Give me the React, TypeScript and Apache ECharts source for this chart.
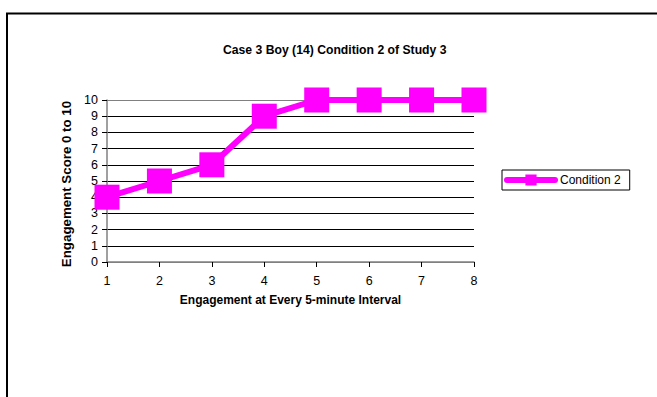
import React, { useEffect, useRef } from "react";
import * as echarts from "echarts";

const titleText = "Case 3 Boy (14) Condition 2 of Study 3";
const xAxisTitle = "Engagement at Every 5-minute Interval";
const yAxisTitle = "Engagement Score 0 to 10";
const seriesName = "Condition 2";
const categories = ["1", "2", "3", "4", "5", "6", "7", "8"];
const values = [4, 5, 6, 9, 10, 10, 10, 10];

const FONT = "'Liberation Sans', Arial, sans-serif";
const MAGENTA = "#FF00FF";

export default function App() {
  const ref = useRef<HTMLDivElement>(null);
  useEffect(() => {
    if (!ref.current) return;
    const chart = echarts.init(ref.current, undefined, { renderer: "svg" });
    const splitColors = ["#808080", "#000", "#000", "#000", "#000", "#000", "#000", "#000", "#000", "#000", "#808080"];
    chart.setOption({
      animation: false,
      backgroundColor: "#fff",
      textStyle: { fontFamily: FONT },
      title: {
        text: titleText,
        left: 223,
        top: 44,
        padding: 0,
        textStyle: { fontFamily: FONT, fontSize: 12.2, fontWeight: "bold", color: "#000" },
      },
      graphic: [
        {
          type: "rect",
          shape: { x: 7, y: 13.5, width: 700, height: 500 },
          style: { fill: "none", stroke: "#000", lineWidth: 2 },
          silent: true,
        },
      ],
      legend: {
        left: 502,
        top: 170,
        orient: "vertical",
        padding: [4, 9, 4, 2],
        borderColor: "#000",
        borderWidth: 1,
        itemWidth: 48,
        itemHeight: 14,
        textStyle: { fontFamily: FONT, fontSize: 12, color: "#000" },
        lineStyle: { width: 6, cap: "round", color: MAGENTA },
        data: [seriesName],
      },
      grid: { left: 107, top: 100, width: 367, height: 162, show: false },
      xAxis: {
        type: "category",
        data: categories,
        boundaryGap: false,
        name: xAxisTitle,
        nameLocation: "middle",
        nameGap: 32,
        nameTextStyle: { fontFamily: FONT, fontSize: 12, fontWeight: "bold", color: "#000" },
        axisLine: { lineStyle: { color: "#808080", width: 1.5 } },
        axisTick: { show: true, length: 5, lineStyle: { color: "#000" } },
        axisLabel: { fontFamily: FONT, fontSize: 12.5, color: "#000", margin: 12 },
        splitLine: { show: false },
      },
      yAxis: {
        type: "value",
        min: 0,
        max: 10,
        interval: 1,
        name: yAxisTitle,
        nameLocation: "middle",
        nameRotate: 90,
        nameGap: 26,
        nameTextStyle: { fontFamily: FONT, fontSize: 13.3, fontWeight: "bold", color: "#000", padding: [0, 6, 0, 0] },
        axisLine: { show: true, lineStyle: { color: "#808080", width: 1.5 } },
        axisTick: { show: true, length: 5, lineStyle: { color: "#000" } },
        axisLabel: { fontFamily: FONT, fontSize: 12.5, color: "#000", margin: 9 },
        splitLine: { show: true, lineStyle: { color: splitColors, width: 1 } },
      },
      series: [
        {
          name: seriesName,
          type: "line",
          data: values,
          symbol: "rect",
          symbolSize: 25,
          clip: false,
          lineStyle: { color: MAGENTA, width: 6 },
          itemStyle: { color: MAGENTA },
        },
      ],
    });
    return () => chart.dispose();
  }, []);
  return (
    <div
      ref={ref}
      style={{ position: "fixed", left: 0, top: 0, width: 657, height: 397, background: "#fff" }}
    />
  );
}
